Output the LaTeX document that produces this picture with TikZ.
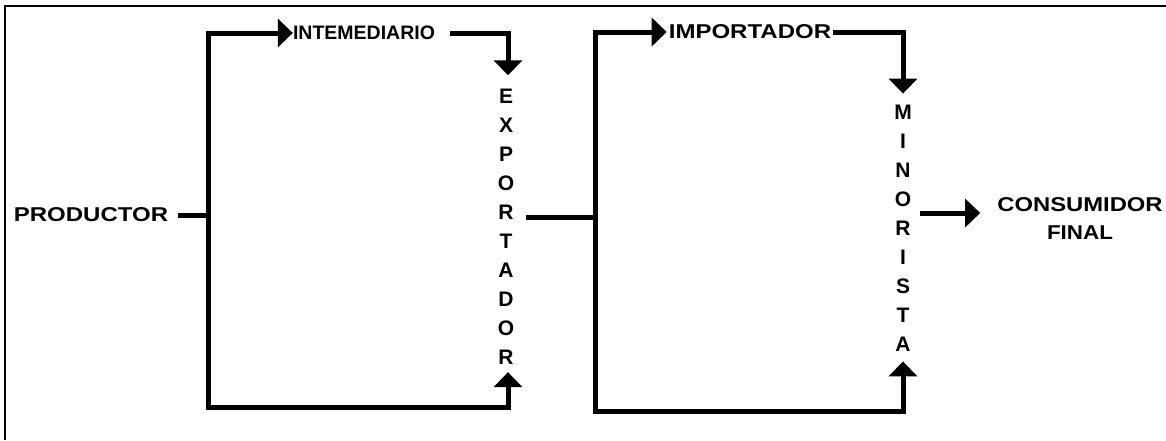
\documentclass[tikz,border=0pt]{standalone}
\usepackage{fontspec}
\setmainfont{Liberation Sans}
\usepackage{graphicx}
\usetikzlibrary{arrows.meta}
\begin{document}
\begin{tikzpicture}[x=1pt,y=-1pt,
  conn/.style={line width=5pt},
  arr/.style={conn,-{Triangle[width=28pt,length=15pt]}},
  lbl/.style={font=\bfseries\fontsize{20}{22}\selectfont, inner sep=0pt},
  vlbl/.style={font=\bfseries\fontsize{21}{29}\selectfont, align=center, inner xsep=8pt, inner ysep=0pt},
  frame/.style={line width=2pt}]
\useasboundingbox (0,0) rectangle (1166,440);
\fill[white] (0,0) rectangle (1166,440);
\draw[frame] (5,440) -- (5,6) -- (1166,6);

% nodes
\node[lbl, inner xsep=10pt] (prod) at (91,215) {\scalebox{1.2}[1]{PRODUCTOR}};
\node[lbl, font=\bfseries\fontsize{19.5}{22}\selectfont] (inter) at (364,33) {INTEMEDIARIO};
\node[vlbl, inner xsep=12pt] (expo) at (506,227.2) {E\\X\\P\\O\\R\\T\\A\\D\\O\\R};
\node[lbl, inner xsep=2pt] (impo) at (750,32) {\scalebox{1.2}[1]{IMPORTADOR}};
\node[vlbl] (mino) at (903,228) {M\\I\\N\\O\\R\\I\\S\\T\\A};
\node[lbl, inner xsep=17pt, align=center, font=\bfseries\fontsize{20}{28}\selectfont] (cons) at (1080,219)
  {\scalebox{1.19}[1]{CONSUMIDOR}\\\scalebox{1.12}[1]{FINAL}};

% junctions
\coordinate (j1) at (208,215);
\coordinate (j2) at (595,217);

% left loop
\draw[conn] (prod.east |- j1) -- (j1);
\draw[arr] (j1) |- (inter.west);
\draw[arr] (j1) |- ([xshift=2pt]expo.south |- 0,407) -- ([xshift=2pt,yshift=-7pt]expo.south);
\draw[arr] ([xshift=15pt]inter.east) -| ([xshift=2pt,yshift=14pt]expo.north);

% right loop
\draw[conn] (expo.east |- j2) -- (j2);
\draw[arr] (j2) |- (impo.west);
\draw[arr] (j2) |- (mino.south |- 0,411) -- ([yshift=-10pt]mino.south);
\draw[arr] (impo.east) -| ([yshift=11pt]mino.north);

% to consumer
\draw[arr] (mino.east |- 0,213) -- (cons.west |- 0,213);
\end{tikzpicture}
\end{document}
